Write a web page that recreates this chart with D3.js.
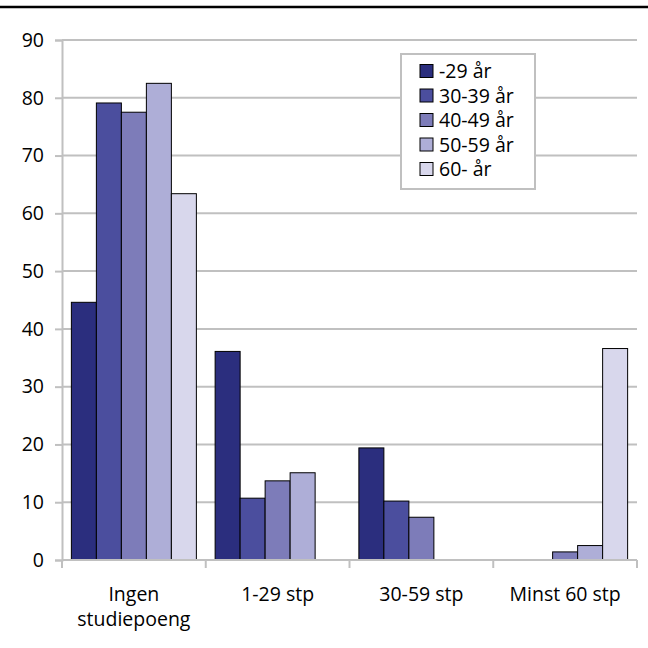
<!DOCTYPE html>
<html><head><meta charset="utf-8">
<script src="https://cdn.jsdelivr.net/npm/d3@7"></script>
<style>body{margin:0;background:#fff}svg{display:block}</style>
</head><body>
<script>
const categories = [["Ingen","studiepoeng"],["1-29 stp"],["30-59 stp"],["Minst 60 stp"]];
const seriesNames = ["-29 år","30-39 år","40-49 år","50-59 år","60- år"];
const s29 = [44.6, 36.1, 19.4, null];
const s30 = [79.1, 10.7, 10.2, null];
const s40 = [77.5, 13.7, 7.4, 1.4];
const s50 = [82.5, 15.1, null, 2.5];
const s60 = [63.4, null, null, 36.6];
const yTicks = [0,10,20,30,40,50,60,70,80,90];
const colors = ["#2b2e7e","#4b4e9e","#7d7cb9","#aeaed7","#d8d7ec"];
const series = [s29,s30,s40,s50,s60];

(function(){
const W=648,H=648, FS=19.5, FF="'Open Sans', sans-serif";
const svg=d3.select("body").append("svg").attr("width",W).attr("height",H)
  .style("font-family",FF);
svg.append("line").attr("x1",0).attr("x2",W).attr("y1",7).attr("y2",7)
  .attr("stroke","#000").attr("stroke-width",2.5);

const pL=62,pR=637,pT=40,pB=560;
const y=d3.scaleLinear().domain([0,90]).range([pB,pT]);
const x0=d3.scaleBand().domain(d3.range(categories.length)).range([pL,pR]).paddingInner(0).paddingOuter(0);
const x1=d3.scaleBand().domain(d3.range(seriesNames.length)).range([0,x0.bandwidth()]).paddingOuter(0.375).paddingInner(0);

svg.append("g").selectAll("line").data(yTicks.filter(d=>d>0)).join("line")
  .attr("x1",pL).attr("x2",pR).attr("y1",d=>y(d)).attr("y2",d=>y(d))
  .attr("stroke","#c0c0c0").attr("stroke-width",2);

const ya=svg.append("g").attr("transform",`translate(${pL},0)`)
  .call(d3.axisLeft(y).tickValues(yTicks).tickSize(7).tickPadding(11));
ya.select(".domain").attr("stroke","#c0c0c0").attr("stroke-width",2);
ya.selectAll(".tick line").attr("stroke","#c0c0c0").attr("stroke-width",2);
ya.selectAll("text").attr("font-size",FS).attr("fill","#000").attr("font-family",FF);

series.forEach((s,si)=>{
  svg.append("g").selectAll("rect").data(s.map((v,i)=>({v,i})).filter(d=>d.v!=null)).join("rect")
    .attr("x",d=>x0(d.i)+x1(si)).attr("width",x1.bandwidth())
    .attr("y",d=>y(d.v)).attr("height",d=>pB-y(d.v))
    .attr("fill",colors[si]).attr("stroke","#000").attr("stroke-width",1);
});

const xs=d3.scaleLinear().domain([0,categories.length]).range([pL,pR]);
svg.append("line").attr("x1",pL).attr("x2",pR).attr("y1",pB).attr("y2",pB)
  .attr("stroke","#c0c0c0").attr("stroke-width",2);
svg.append("g").selectAll("line").data(d3.range(categories.length+1)).join("line")
  .attr("x1",d=>xs(d)).attr("x2",d=>xs(d)).attr("y1",pB).attr("y2",pB+8)
  .attr("stroke","#c0c0c0").attr("stroke-width",2);
const lab=svg.append("g").selectAll("text").data(categories).join("text")
  .attr("text-anchor","middle").attr("font-size",FS).attr("fill","#000")
  .attr("x",(d,i)=>x0(i)+x0.bandwidth()/2).attr("y",601);
lab.selectAll("tspan").data(d=>d).join("tspan")
  .attr("x",function(){return this.parentNode.getAttribute("x");})
  .attr("dy",(d,i)=>i===0?0:25).text(d=>d);

const lg=svg.append("g");
lg.append("rect").attr("x",401).attr("y",54).attr("width",134).attr("height",135)
  .attr("fill","#fff").attr("stroke","#c0c0c0").attr("stroke-width",2);
seriesNames.forEach((n,i)=>{
  const cy=71+i*24.5;
  lg.append("rect").attr("x",420).attr("y",cy-6.5).attr("width",13).attr("height",13)
    .attr("fill",colors[i]).attr("stroke","#000").attr("stroke-width",1);
  lg.append("text").attr("x",439).attr("y",cy+7).attr("font-size",FS).attr("fill","#000").text(n);
});
})();
</script>
</body></html>
